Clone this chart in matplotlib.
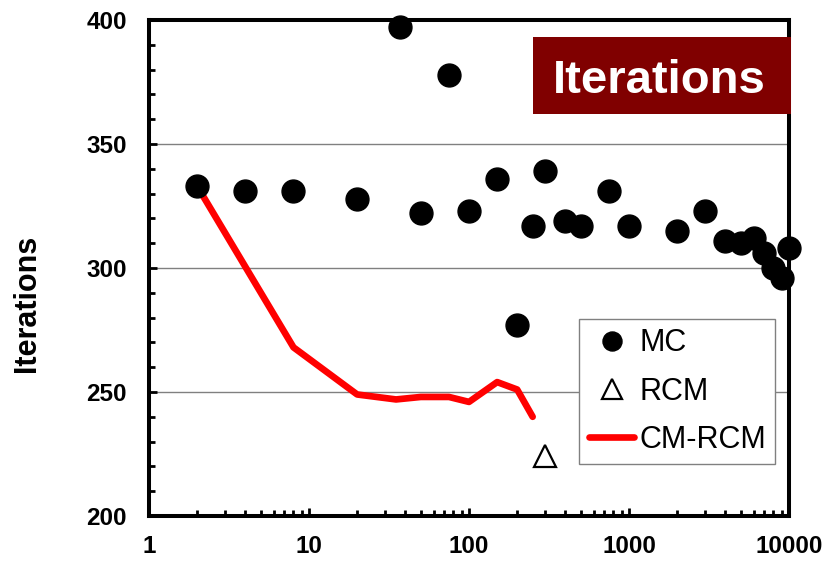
import matplotlib.pyplot as plt
from matplotlib.patches import Rectangle
from matplotlib.ticker import LogLocator, MultipleLocator, FixedLocator

plt.rcParams['font.family'] = ['Liberation Sans', 'DejaVu Sans']

# MC runs: colour count vs iterations
mc_colors = [2, 4, 8, 20, 37, 50, 75, 100, 150, 200, 250, 300, 400, 500, 750,
             1000, 2000, 3000, 4000, 5000, 6000, 7000, 8000, 9000, 10000]
mc_iters = [333, 331, 331, 328, 397, 322, 378, 323, 336, 277, 317, 339, 319, 317, 331,
            317, 315, 323, 311, 310, 312, 306, 300, 296, 308]

# RCM: single point
rcm_colors = [300]
rcm_iters = [224]

# CM-RCM curve
cmrcm_colors = [2, 8, 20, 35, 50, 75, 100, 150, 200, 250]
cmrcm_iters = [333, 268, 249, 247, 248, 248, 246, 254, 251, 240]

y_grid = [250, 300, 350]
x_ticks = [1, 10, 100, 1000, 10000]
x_ticklabels = ['1', '10', '100', '1000', '10000']
y_ticks = [200, 250, 300, 350, 400]

fig = plt.figure(figsize=(8.29, 5.63), dpi=100)
ax = fig.add_axes([149 / 829, 47 / 563, 640 / 829, 496 / 563])

ax.set_xscale('log')
ax.set_xlim(1, 10000)
ax.set_ylim(200, 400)

for g in y_grid:
    ax.axhline(g, color='#808080', lw=1.0, zorder=1)

ax.plot(mc_colors, mc_iters, 'o', color='black', markersize=16.5, label='MC',
        clip_on=False, zorder=4)
ax.plot(rcm_colors, rcm_iters, '^', markerfacecolor='white', markeredgecolor='black',
        markeredgewidth=1.6, markersize=16.5, label='RCM', zorder=4)
ax.plot(cmrcm_colors, cmrcm_iters, '-', color='#ff0000', lw=4.8, label='CM-RCM',
        solid_capstyle='round', zorder=3)

ax.xaxis.set_major_locator(FixedLocator(x_ticks))
ax.set_xticklabels(x_ticklabels)
ax.xaxis.set_minor_locator(LogLocator(base=10, subs=range(2, 10)))
ax.xaxis.set_minor_formatter(plt.NullFormatter())
ax.set_yticks(y_ticks)
ax.yaxis.set_minor_locator(MultipleLocator(10))

ax.tick_params(axis='both', which='major', direction='in', length=6, width=2,
               labelsize=17.5, pad=16)
ax.tick_params(axis='both', which='minor', direction='in', length=4, width=2)
ax.tick_params(axis='x', which='major', pad=14)
for lab in ax.get_xticklabels() + ax.get_yticklabels():
    lab.set_fontweight('bold')

for sp in ax.spines.values():
    sp.set_linewidth(2.9)

fig.text(27 / 829, 1 - 303 / 563, 'Iterations', rotation=90, ha='center', va='center',
         fontsize=22, fontweight='bold')

# title box
ax.add_patch(Rectangle((0.6, 0.8105), 0.403, 0.155, transform=ax.transAxes,
                       facecolor='#800000', edgecolor='none', clip_on=False, zorder=6))
ax.text(0.798, 0.853, 'Iterations', transform=ax.transAxes, ha='center', va='baseline',
        color='white', fontsize=34, fontweight='bold', zorder=7)

leg = ax.legend(loc='upper right', bbox_to_anchor=(0.978, 0.397), borderaxespad=0,
                fontsize=22, fancybox=False, framealpha=1, edgecolor='#808080',
                markerscale=0.83, handlelength=1.5, handletextpad=0.15,
                labelspacing=0.6, borderpad=0.3)
leg.get_frame().set_linewidth(1.0)
leg.set_zorder(5)

fig.savefig('out.png', dpi=100)
